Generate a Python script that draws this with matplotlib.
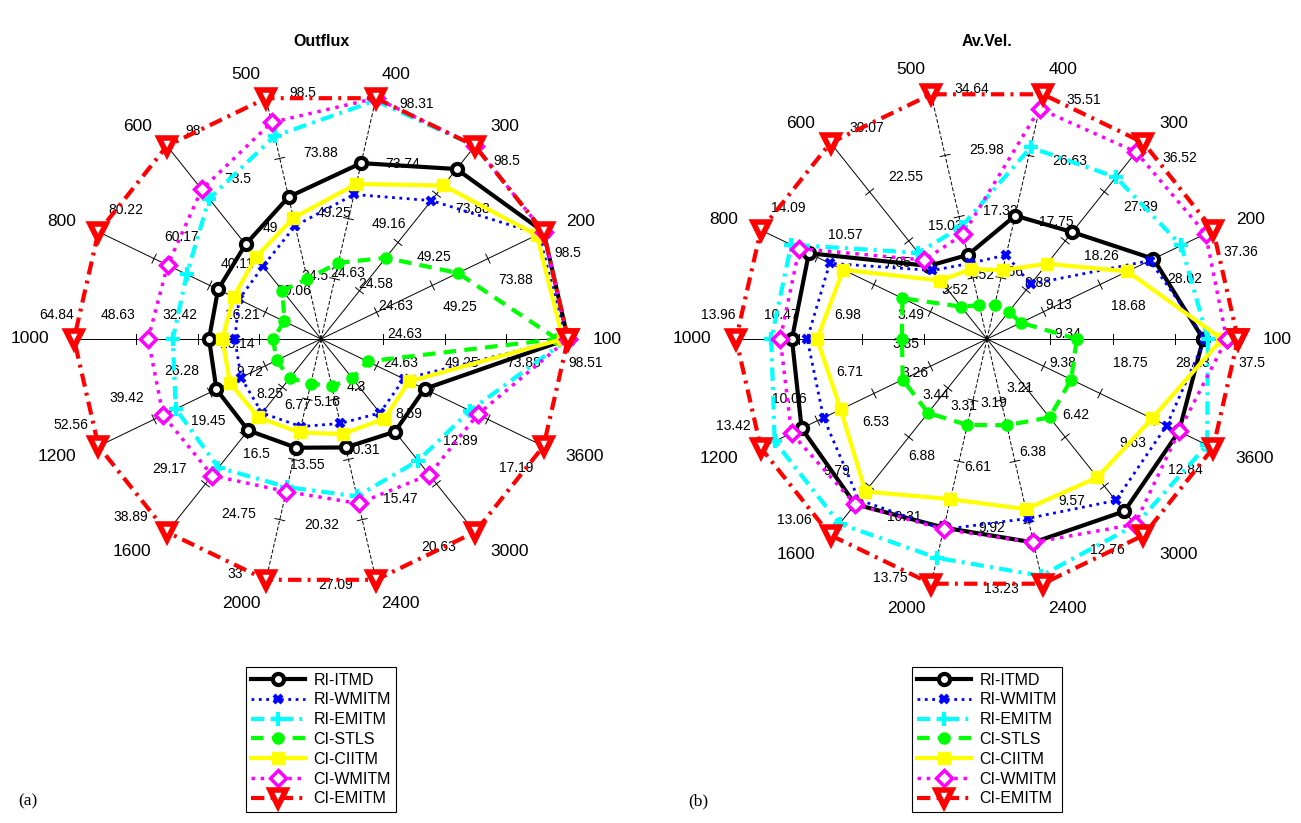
import numpy as np
import matplotlib.pyplot as plt

plt.rcParams['font.family'] = ['Liberation Sans', 'DejaVu Sans']

# spokes (inflow values)
inflow = ['100', '200', '300', '400', '500', '600', '800', '1000',
          '1200', '1600', '2000', '2400', '3000', '3600']
methods = ['RI-ITMD', 'RI-WMITM', 'RI-EMITM', 'CI-STLS',
           'CI-CIITM', 'CI-WMITM', 'CI-EMITM']

# (a) Outflux
out_ri_itmd = [98.5, 98.5, 86.7, 71.8, 58.1, 48.0, 37.1, 29.4, 24.7, 18.4, 14.9, 12.2, 9.9, 8.0]
out_ri_wmitm = [97.5, 96.5, 70.6, 59.0, 46.3, 36.9, 29.6, 22.6, 18.9, 14.9, 12.0, 9.5, 7.9, 6.4]
out_ri_emitm = [98.5, 98.5, 98.5, 97.3, 83.0, 71.2, 48.4, 38.9, 34.3, 25.9, 20.3, 17.7, 13.0, 11.5]
out_ci_stls = [94.1, 60.6, 41.4, 31.1, 24.6, 24.5, 13.2, 12.6, 10.5, 7.9, 6.1, 5.3, 4.2, 3.6]
out_ci_ciitm = [96.5, 95.5, 78.3, 63.3, 49.5, 41.5, 31.5, 25.9, 21.5, 15.8, 12.8, 10.7, 8.5, 6.8]
out_ci_wmitm = [98.5, 98.5, 98.5, 98.3, 88.6, 75.9, 55.3, 45.4, 37.3, 27.5, 20.9, 18.5, 14.5, 12.1]
out_ci_emitm = [98.508, 98.501, 98.501, 98.314, 98.501, 98.0, 80.221, 64.84, 52.56, 38.891,
                33.0, 27.091, 20.626, 17.186]

# (b) Av.Vel.
vel_ri_itmd = [32.3, 27.5, 19.9, 17.9, 11.9, 11.2, 11.1, 10.85, 11.0, 11.0, 10.6, 11.0, 11.2, 10.9]
vel_ri_wmitm = [32.6, 26.9, 10.2, 12.2, 10.7, 10.5, 9.8, 10.0, 9.7, 10.7, 10.7, 9.7, 10.5, 10.2]
vel_ri_emitm = [33.0, 32.1, 30.1, 27.8, 15.9, 13.2, 12.2, 12.0, 12.6, 12.3, 12.3, 12.8, 12.1, 12.5]
vel_ci_stls = [13.4, 5.6, 5.05, 4.9, 4.8, 4.96, 5.27, 4.73, 5.0, 4.92, 4.83, 4.66, 5.1, 4.78]
vel_ci_ciitm = [35.1, 23.2, 14.0, 10.0, 9.9, 8.95, 8.96, 9.45, 8.68, 10.15, 9.0, 9.2, 9.0, 9.37]
vel_ci_wmitm = [35.8, 36.1, 34.8, 33.4, 14.8, 12.1, 11.7, 11.5, 11.6, 11.0, 10.7, 11.0, 12.05, 10.9]
vel_ci_emitm = [37.501, 37.36, 36.52, 35.509, 34.64, 30.069, 14.091, 13.96, 13.419, 13.059,
                13.751, 13.229, 12.76, 12.84]

outflux = [out_ri_itmd, out_ri_wmitm, out_ri_emitm, out_ci_stls,
           out_ci_ciitm, out_ci_wmitm, out_ci_emitm]
avvel = [vel_ri_itmd, vel_ri_wmitm, vel_ri_emitm, vel_ci_stls,
         vel_ci_ciitm, vel_ci_wmitm, vel_ci_emitm]

dashdot = (0, (3.2, 1.5, 0.7, 1.5))
styles = [
    dict(color='k', ls='-', lw=3, marker='o', ms=8, mfc='white', mec='k', mew=3),
    dict(color='#0000ff', ls=':', lw=2, marker='x', ms=6, mew=3),
    dict(color='#00ffff', ls=dashdot, lw=3, marker='+', ms=10, mew=3),
    dict(color='#00ff00', ls=(0, (3, 2)), lw=3, marker='o', ms=8, mfc='#00ff00', mec='#00ff00'),
    dict(color='#ffff00', ls='-', lw=3, marker='s', ms=9, mfc='#ffff00', mec='#ffff00'),
    dict(color='#ff00ff', ls=':', lw=2.5, marker='D', ms=8, mfc='white', mec='#ff00ff', mew=2.5),
    dict(color='#ff0000', ls=dashdot, lw=3, marker='v', ms=11, mfc='white', mec='#ff0000', mew=4),
]

W, H = 1301, 823


def fmt(v):
    return f'{v:.2f}'.rstrip('0').rstrip('.')


def draw_spider(ax, data):
    data = np.array(data, dtype=float)
    n = data.shape[1]
    vmax = data.max(axis=0)
    theta = np.deg2rad(np.arange(n) * 360.0 / n)
    ux, uy = np.cos(theta), np.sin(theta)
    nx, ny = np.sin(theta), -np.cos(theta)
    for k in range(n):
        vert = abs(ux[k]) < 0.3
        ax.plot([0, ux[k]], [0, uy[k]], color='k', lw=0.7,
                ls=(0, (4, 2)) if vert else '-', zorder=1, clip_on=False)
        for q in (0.25, 0.5, 0.75):
            tx, ty = q * ux[k], q * uy[k]
            ax.plot([tx - 0.02 * nx[k], tx + 0.02 * nx[k]],
                    [ty - 0.02 * ny[k], ty + 0.02 * ny[k]],
                    color='k', lw=0.7, zorder=1, clip_on=False)
        ha = 'left' if k < n / 2 else 'right'
        for q in (0.25, 0.5, 0.75, 1.0):
            ax.text(q * ux[k] + 0.097 * nx[k], q * uy[k] + 0.097 * ny[k],
                    fmt(q * vmax[k]), ha=ha, va='center', fontsize=10, zorder=1.5)
        ha2 = 'left' if ux[k] > 0.01 else ('right' if ux[k] < -0.01 else 'center')
        ax.text(1.1 * ux[k], 1.1 * uy[k], inflow[k], ha=ha2, va='center', fontsize=12.5)
    handles = []
    for i, (vals, st) in enumerate(zip(data, styles)):
        r = vals / vmax
        x = np.append(r * ux, r[0] * ux[0])
        y = np.append(r * uy, r[0] * uy[0])
        h, = ax.plot(x, y, label=methods[i], zorder=3 + i, clip_on=False, **st)
        handles.append(h)
    ax.set_xlim(-1.25, 1.25)
    ax.set_ylim(-1.25, 1.25)
    ax.axis('off')
    return handles


fig = plt.figure(figsize=(W / 100, H / 100), dpi=100)

panels = [(321, 247, outflux, 'Outflux', '(a)', 18),
          (987, 251, avvel, 'Av.Vel.', '(b)', 688)]
for cx, R, data, title, tag, tagx in panels:
    cy = 339
    ax = fig.add_axes([(cx - 1.25 * R) / W, (H - cy - 1.25 * R) / H,
                       2.5 * R / W, 2.5 * R / H])
    handles = draw_spider(ax, data)
    fig.text(cx / W, 1 - 42 / H, title, ha='center', va='center',
             fontsize=11.5, fontweight='bold')
    fig.text(tagx / W, 1 - 801 / H, tag, ha='left', va='center',
             fontsize=12.5, family=['Liberation Serif', 'DejaVu Serif'])
    leg = ax.legend(handles=handles, loc='upper center',
                    bbox_to_anchor=(cx / W, 1 - 667 / H),
                    bbox_transform=fig.transFigure, fontsize=11.5,
                    labelspacing=0.3, handlelength=3.4, handletextpad=0.5,
                    borderpad=0.35, borderaxespad=0, fancybox=False,
                    framealpha=1, edgecolor='k')
    leg.get_frame().set_linewidth(0.8)

fig.savefig('out.png', dpi=100)
